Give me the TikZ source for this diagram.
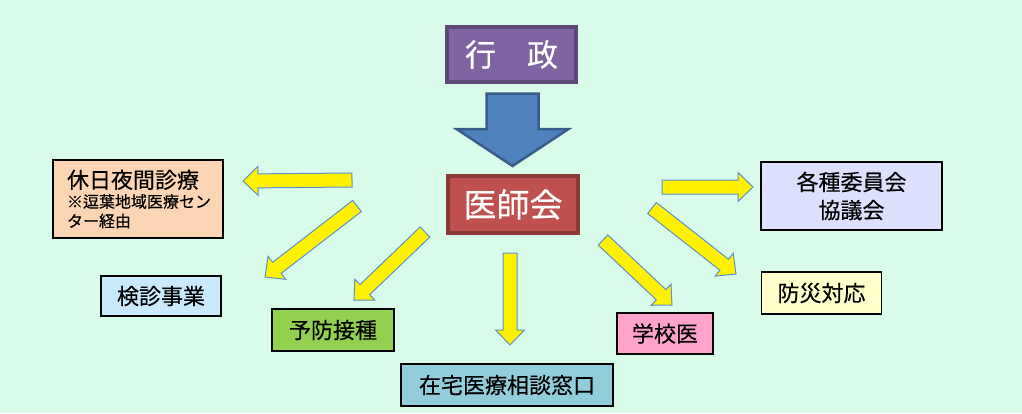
\documentclass[tikz,border=0pt]{standalone}
\usepackage{fontspec}
\setmainfont{Noto Sans CJK JP}[FakeBold=0.35]
\usetikzlibrary{calc}
\definecolor{bg}{HTML}{D9FCEA}
\definecolor{purplefill}{HTML}{8064A2}
\definecolor{purpleline}{HTML}{5C4776}
\definecolor{redfill}{HTML}{C0504D}
\definecolor{redline}{HTML}{8C3836}
\definecolor{bluefill}{HTML}{4F81BD}
\definecolor{blueline}{HTML}{385D8A}
\definecolor{yarrline}{HTML}{5F8FC8}
\definecolor{peach}{HTML}{FCD5B5}
\definecolor{lightblue}{HTML}{C9EAFD}
\definecolor{green}{HTML}{92D050}
\definecolor{aqua}{HTML}{92CDDC}
\definecolor{pink}{HTML}{FFA3CC}
\definecolor{cream}{HTML}{FFFFCC}
\definecolor{lavender}{HTML}{DCE0FC}
\newcommand\blkarr[6]{%
  \coordinate (hb) at ($(#3)!#6!(#2)$);
  \draw[#1] ($(#2)!#4!90:(#3)$) -- ($(hb)!#4!-90:(#2)$) -- ($(hb)!#5!-90:(#2)$) -- (#3)
    -- ($(hb)!#5!90:(#2)$) -- ($(hb)!#4!90:(#2)$) -- ($(#2)!#4!-90:(#3)$) -- cycle;}
\tikzset{
  box/.style={draw=black, line width=1.3pt, inner sep=0pt, font=\fontsize{22}{26}\selectfont, text=black},
  headbox/.style={line width=4pt, inner sep=0pt, text=white},
  yarr/.style={fill=yellow, draw=yarrline, line width=1pt, line join=miter},
  barr/.style={fill=bluefill, draw=blueline, line width=2.5pt, line join=miter},
}
\begin{document}
\begin{tikzpicture}[x=1pt,y=-1pt]
\fill[bg] (0,0) rectangle (1022,413);
\useasboundingbox (0,0) rectangle (1022,413);

% top boxes
\node[headbox, fill=purplefill, draw=purpleline, minimum width=129pt, minimum height=55pt,
  font=\fontsize{31}{34}\selectfont] (gyousei) at (511.5,54.5) {行　政};
\node[headbox, fill=redfill, draw=redline, minimum width=130pt, minimum height=57pt,
  font=\fontsize{33}{36}\selectfont] (ishikai) at (513,204.5) {医師会};

% big blue arrow
\coordinate (ba) at (512.5,93.5);
\coordinate (bb) at (512.5,166);
\blkarr{barr}{ba}{bb}{26pt}{56pt}{37pt}

% surrounding boxes
\node[box, fill=peach, minimum width=170pt, minimum height=78pt, text width=142pt, align=left,
  font=\fontsize{16}{19.5}\selectfont] (kyujitsu) at (138,199)
  {{\fontsize{22}{26}\selectfont 休日夜間診療}\\[0pt]※逗葉地域医療セン\\ター経由};
\node[box, fill=lightblue, minimum width=120pt, minimum height=40pt] (kenshin) at (161,296) {検診事業};
\node[box, fill=green, minimum width=122pt, minimum height=42pt] (yobou) at (333,330) {予防接種};
\node[box, fill=aqua, minimum width=212pt, minimum height=42pt] (zaitaku) at (507,385) {在宅医療相談窓口};
\node[box, fill=pink, minimum width=96pt, minimum height=41pt] (gakkoui) at (665,333.5) {学校医};
\node[box, fill=cream, minimum width=120pt, minimum height=42pt] (bousai) at (821.5,293) {防災対応};
\node[box, fill=lavender, minimum width=181pt, minimum height=68pt, align=center,
  font=\fontsize{22}{28}\selectfont] (kakushu) at (851.5,196) {各種委員会\\協議会\hspace{16pt}};

% yellow arrows
\coordinate (a1) at (352,180);   \coordinate (b1) at (243,181);
\coordinate (a2) at (357,206);   \coordinate (b2) at (265,277);
\coordinate (a3) at (425,232);   \coordinate (b3) at (354,300);
\coordinate (a4) at (510,253);   \coordinate (b4) at (510,345);
\coordinate (a5) at (603,240);   \coordinate (b5) at (672,305);
\coordinate (a6) at (652,208);   \coordinate (b6) at (736,274);
\coordinate (a7) at (662,187);   \coordinate (b7) at (753,187);
\blkarr{yarr}{a1}{b1}{7pt}{14.5pt}{15pt}
\blkarr{yarr}{a2}{b2}{7pt}{14.5pt}{15pt}
\blkarr{yarr}{a3}{b3}{7pt}{14.5pt}{15pt}
\blkarr{yarr}{a4}{b4}{7pt}{14.5pt}{15pt}
\blkarr{yarr}{a5}{b5}{7pt}{14.5pt}{15pt}
\blkarr{yarr}{a6}{b6}{7pt}{14.5pt}{15pt}
\blkarr{yarr}{a7}{b7}{7pt}{14.5pt}{15pt}
\end{tikzpicture}
\end{document}
